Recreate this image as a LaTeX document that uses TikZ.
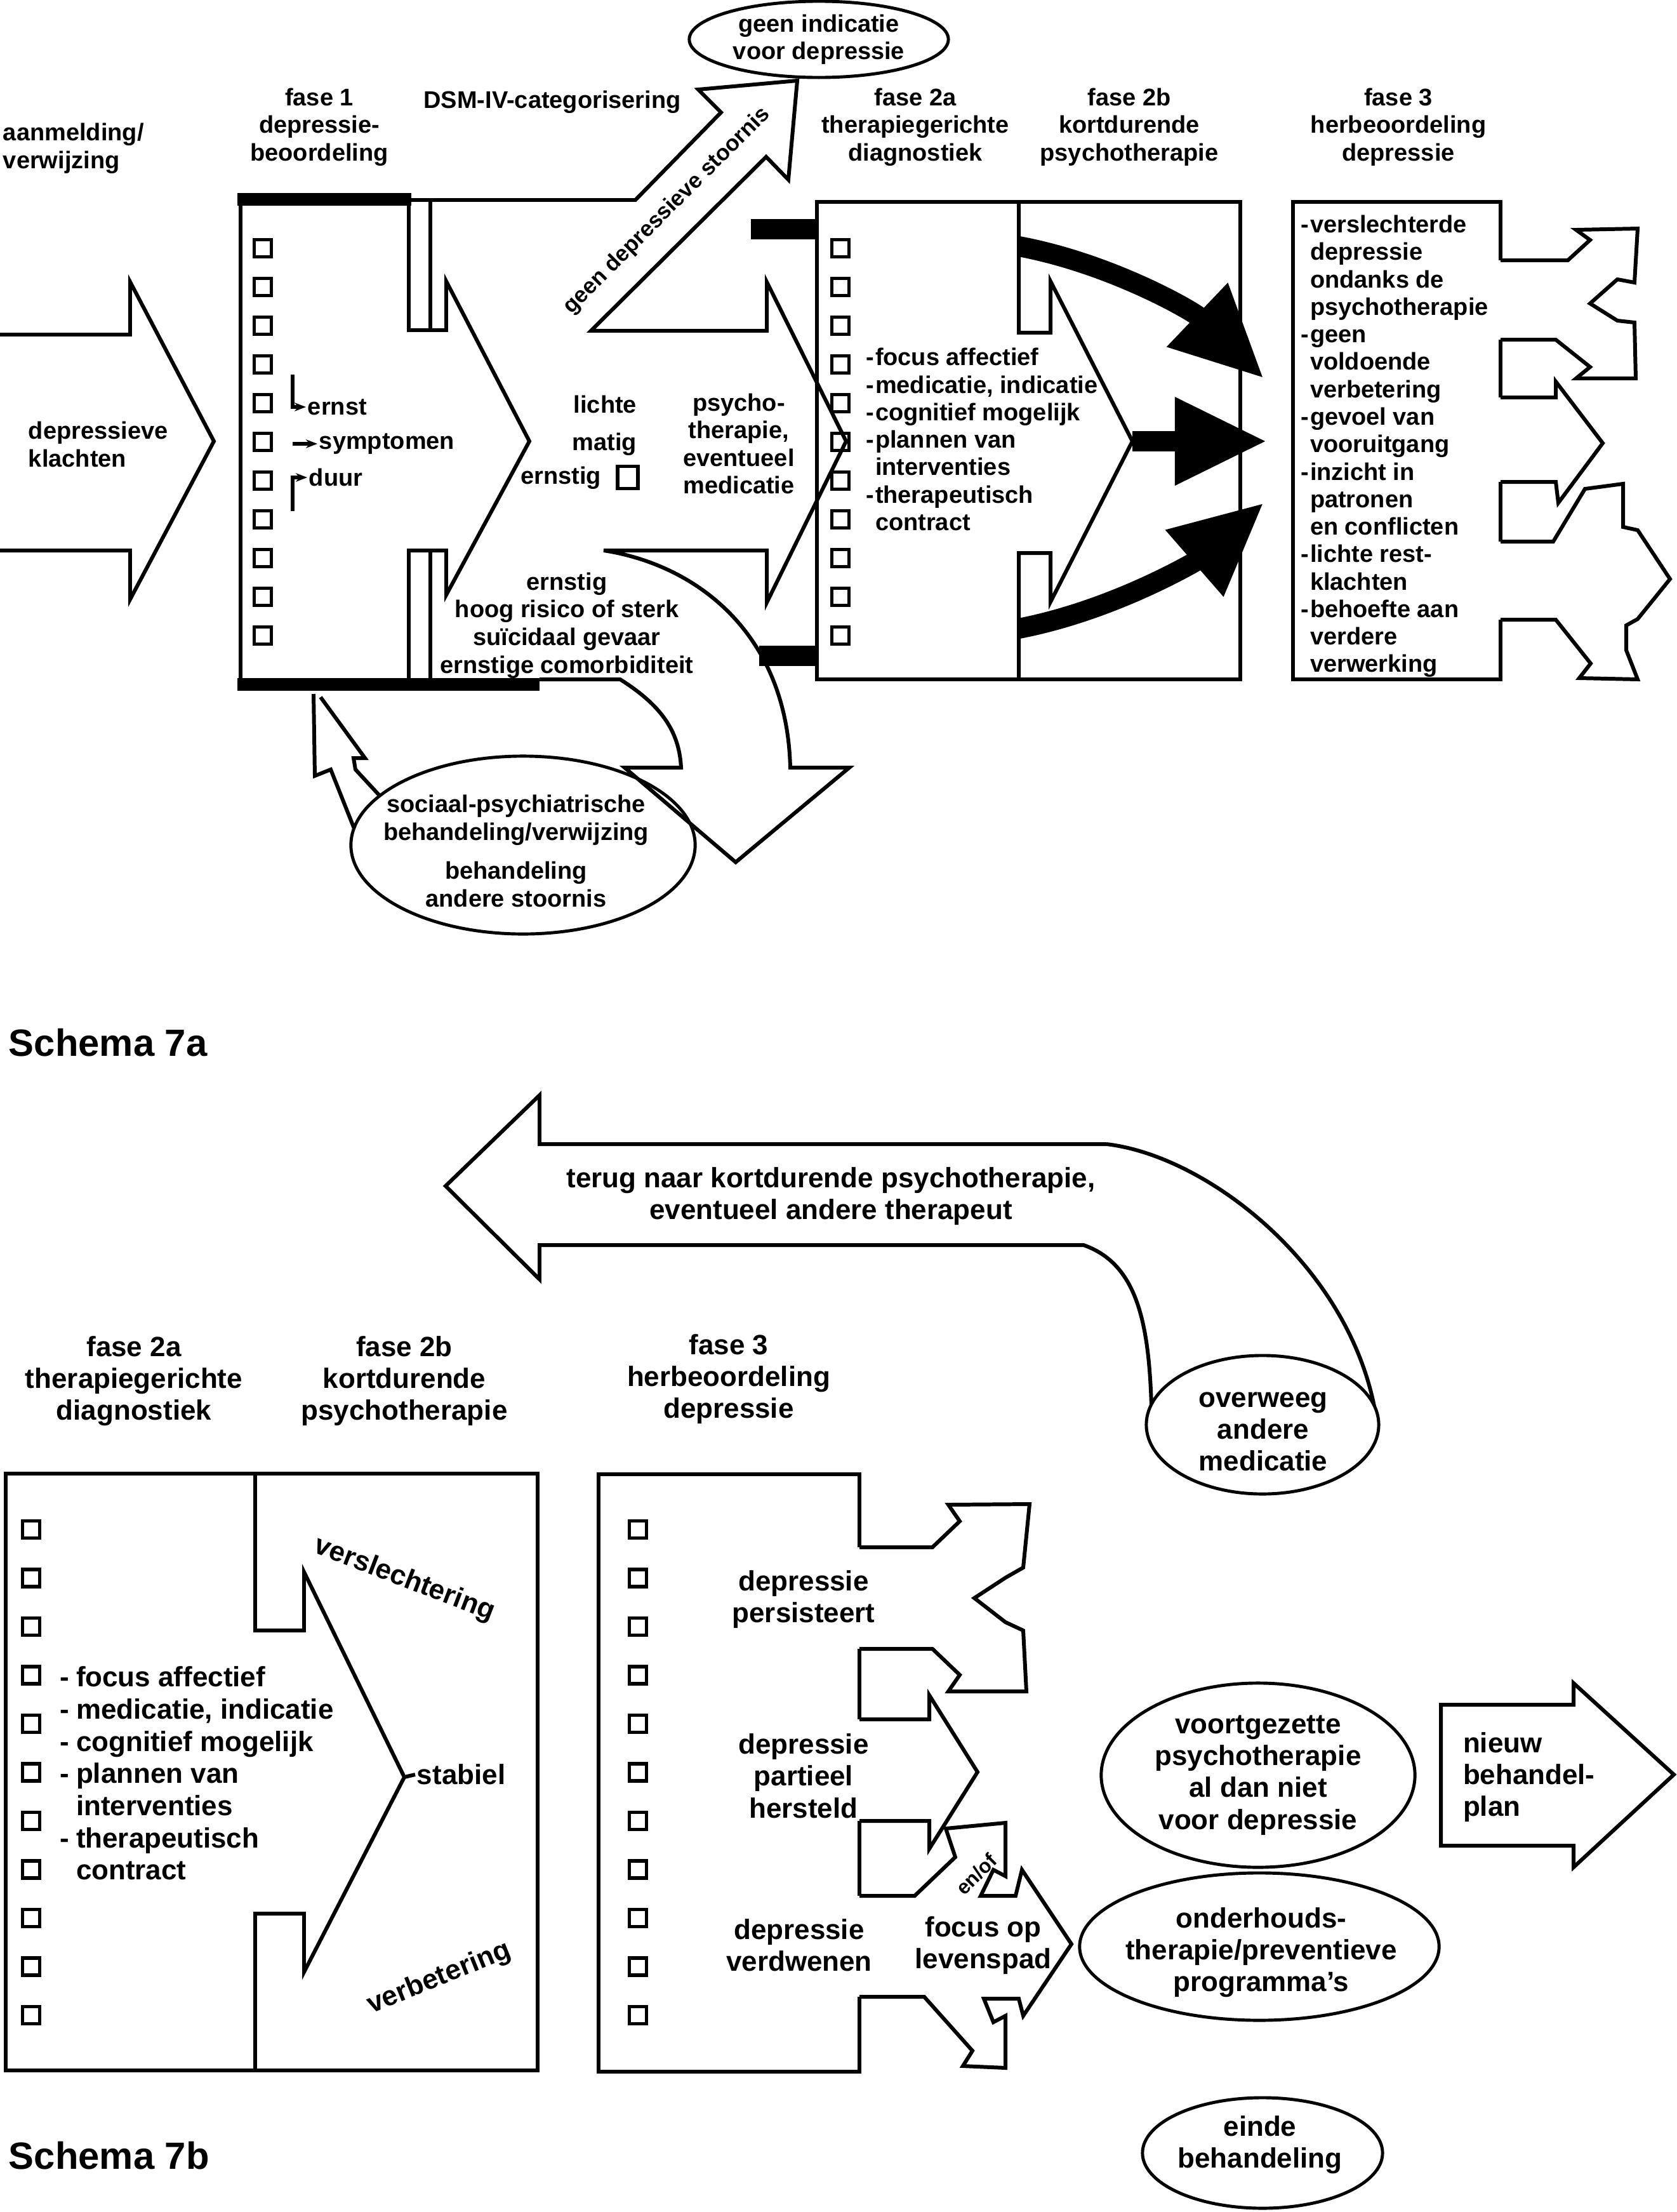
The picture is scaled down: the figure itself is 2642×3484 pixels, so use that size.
\documentclass[tikz,border=0pt]{standalone}
\usepackage{fontspec}
\setmainfont{Liberation Sans}
\usetikzlibrary{arrows.meta, positioning, shapes.geometric}

\newcommand{\bul}{\makebox[0.15cm][l]{-}}
\newcommand{\insp}{\hspace*{0.15cm}}
\newcommand{\bulb}{\makebox[0.25cm][l]{-}}
\newcommand{\inspb}{\hspace*{0.25cm}}

\tikzset{
  head/.style={font=\fontsize{10.8}{12.4}\selectfont\bfseries, align=center, inner sep=0pt},
  headb/.style={font=\fontsize{12.5}{14.3}\selectfont\bfseries, align=center, inner sep=0pt},
  lijst/.style={font=\fontsize{10.8}{12.3}\selectfont\bfseries, align=left, inner sep=0pt, anchor=west},
  lijstb/.style={font=\fontsize{12.5}{14.4}\selectfont\bfseries, align=left, inner sep=0pt, anchor=west},
  vakje/.style={draw, line width=1.5pt, minimum width=0.27cm, minimum height=0.27cm, inner sep=0pt},
  ell/.style={draw, ellipse, line width=1.4pt, inner sep=0pt},
  zwart/.style={line width=0.32cm, -{Triangle[length=1.45cm, width=1.3cm]}},
  balk/.style={line width=0.32cm},
  schema/.style={font=\fontsize{17}{20}\selectfont\bfseries, inner sep=0pt, anchor=west},
}

\begin{document}
\begin{tikzpicture}[x=0.01cm, y=-0.01cm, line width=1.7pt]
\useasboundingbox (0,0) rectangle (2642,3484);

% ================= Schema 7a =================
% Headers
\node[head, align=left, anchor=west] (aanmelding) at (2,234) {aanmelding/\\verwijzing};
\node[head] (fase1) at (503,200) {fase 1\\depressie-\\beoordeling};
\node[head] (dsm) at (870,161) {DSM-IV-categorisering};
\node[head] (fase2a) at (1442,200) {fase 2a\\therapiegerichte\\diagnostiek};
\node[head] (fase2b) at (1779,200) {fase 2b\\kortdurende\\psychotherapie};
\node[head] (fase3) at (2203,200) {fase 3\\herbeoordeling\\depressie};
\node[ell, minimum width=4.08cm, minimum height=1.2cm] (geen) at (1290,62) {};
\node[head] (geentxt) at (geen) {geen indicatie\\voor depressie};

% Entry arrow
\draw (0,527) -- (205,527) -- (205,444) -- (337,695) -- (205,944) -- (205,867) -- (0,867);
\node[head, align=left, anchor=west] (klachten) at (42,700) {depressieve\\klachten};

% Box fase 1
\draw (379,315) -- (379,1075);
\draw[line width=0.2cm] (374,314) -- (648,314);
\draw[line width=0.2cm] (374,1078) -- (850,1078);
\draw (644,315) -- (644,520) -- (703,520) -- (703,443) -- (834,695) -- (703,937) -- (703,867) -- (644,867) -- (644,1070);
\draw (678,315) -- (678,520);
\draw (678,867) -- (678,1070);
\foreach \i in {0,...,10} \node[vakje] (va\i) at (414,{391+61*\i}) {};

\node[head, anchor=west] (ernst) at (482,641) {ernst};
\node[head, anchor=west] (symptomen) at (500,699) {symptomen};
\node[head, anchor=west] (duur) at (484,752) {duur};
\draw[-{Stealth[length=0.18cm]}] (461,590) |- (ernst.west);
\draw[-{Stealth[length=0.18cm]}] (461,699) -- (symptomen.west);
\draw[-{Stealth[length=0.18cm]}] (461,805) |- (duur.west);

% Severity
\node[head, anchor=east] (lichte) at (1006,637) {lichte};
\node[head, anchor=east] (matig) at (1006,700) {matig};
\node[head, anchor=east] (ernstig) at (950,753) {ernstig};
\node[vakje, minimum width=0.32cm, minimum height=0.35cm] (vakernstig) at (989,752) {};
\node[head] (behandeling) at (1164,699) {psycho-\\therapie,\\eventueel\\medicatie};
\node[head] (ernstigtxt) at (893,985) {ernstig\\hoog risico of sterk\\suïcidaal gevaar\\ernstige comorbiditeit};

% Outline: DSM arrow, main arrow, curved arrow
\draw (648,315) -- (1001,315) -- (1136,177) -- (1100,141) -- (1256,127) -- (1242,283) -- (1207,247)
  -- (931,521) -- (1208,521) -- (1208,444) -- (1333,695) -- (1208,949) -- (1208,867) -- (951,867)
  .. controls (1100,890) and (1240,1000) .. (1245,1209) -- (1338,1209) -- (1159,1358) -- (984,1209)
  -- (1073,1209) .. controls (1070,1150) and (1040,1110) .. (977,1070) -- (850,1070);
\node[head, font=\fontsize{10}{12}\selectfont\bfseries, rotate=45] (dsmtxt) at (1051,332) {geen depressieve stoornis};
\draw[balk] (1183,361) -- (1289,361);
\draw[balk] (1196,1033) -- (1289,1033);

% Small arrow and ellipse
\draw (494,1093) -- (496,1222) -- (521,1212) -- (558,1305);
\draw (505,1098) -- (575,1194) -- (557,1194) -- (560,1212) -- (597,1252);
\node[ell, minimum width=5.42cm, minimum height=2.8cm] (sociaal) at (824,1331) {};
\node[head] (sociaaltxt) at (813,1292) {sociaal-psychiatrische\\behandeling/verwijzing};
\node[head] (anderetxt) at (813,1393) {behandeling\\andere stoornis};

% Box fase 2a / 2b
\draw (1287,318) rectangle (1954,1070);
\draw (1605,318) -- (1605,524) -- (1655,524) -- (1655,443) -- (1784,695) -- (1655,948) -- (1655,871) -- (1605,871) -- (1605,1070);
\foreach \i in {0,...,10} \node[vakje] (vb\i) at (1324,{391+61*\i}) {};
\node[lijst] (lijst2a) at (1361,692) {\bul focus affectief\\\bul medicatie, indicatie\\\bul cognitief mogelijk\\\bul plannen van\\\insp interventies\\\bul therapeutisch\\\insp contract};

\coordinate (pijl1) at (1605,388);
\coordinate (pijl2) at (1784,695);
\coordinate (pijl3) at (1605,990);
\draw[zwart] (pijl1) .. controls (1750,415) and (1880,490) .. (1991,596);
\draw[zwart] (pijl2) -- (1996,695);
\draw[zwart] (pijl3) .. controls (1760,960) and (1890,880) .. (1991,792);

% Box fase 3
\draw (2364,410) -- (2364,318) -- (2037,318) -- (2037,1070) -- (2364,1070) -- (2364,976);
\draw (2364,535) -- (2364,626);
\draw (2364,759) -- (2364,853);
\node[lijst] (lijst3) at (2046,703) {\bul verslechterde\\\insp depressie\\\insp ondanks de\\\insp psychotherapie\\\bul geen\\\insp voldoende\\\insp verbetering\\\bul gevoel van\\\insp vooruitgang\\\bul inzicht in\\\insp patronen\\\insp en conflicten\\\bul lichte rest-\\\insp klachten\\\bul behoefte aan\\\insp verdere\\\insp verwerking};

\draw (2364,410) -- (2470,410) -- (2505,378) -- (2483,362) -- (2580,360) -- (2575,445) -- (2548,440) -- (2505,478)
  -- (2548,505) -- (2575,508) -- (2577,596) -- (2483,596) -- (2505,578) -- (2451,535) -- (2364,535);
\draw (2364,626) -- (2451,626) -- (2451,601) -- (2525,698) -- (2455,792) -- (2451,759) -- (2364,759);
\draw (2364,853) -- (2447,853) -- (2497,770) -- (2557,762) -- (2557,830) -- (2580,835) -- (2631,912) -- (2580,975)
  -- (2562,985) -- (2562,1024) -- (2580,1070) -- (2488,1068) -- (2506,1045) -- (2451,976) -- (2364,976);

\node[schema] (schema7a) at (11,1642) {Schema 7a};

% ================= Schema 7b =================
% Return arrow
\draw (1743,1802) -- (850,1802) -- (850,1725) -- (702,1868) -- (850,2015) -- (850,1961) -- (1707,1961)
  .. controls (1790,1990) and (1810,2080) .. (1814,2215);
\draw (1743,1802) .. controls (1900,1820) and (2120,1990) .. (2165,2215);
\node[ell, fill=white, minimum width=3.66cm, minimum height=2.18cm] (overweeg) at (1989,2244) {};
\node[headb] (overweegtxt) at (1990,2255) {overweeg\\andere\\medicatie};
\node[headb] (terug) at (1309,1884) {terug naar kortdurende psychotherapie,\\eventueel andere therapeut};

% Headers
\node[headb] (fase2ab) at (211,2175) {fase 2a\\therapiegerichte\\diagnostiek};
\node[headb] (fase2bb) at (637,2175) {fase 2b\\kortdurende\\psychotherapie};
\node[headb] (fase3b) at (1148,2172) {fase 3\\herbeoordeling\\depressie};

% Box fase 2a / 2b
\draw (9,2321) rectangle (847,3261);
\draw (402,2321) -- (402,2568) -- (479,2568) -- (479,2476) -- (637,2799) -- (479,3106) -- (479,3014) -- (402,3014) -- (402,3261);
\foreach \i in {0,...,10} \node[vakje] (vc\i) at (49,{2409+76.5*\i}) {};
\node[lijstb] (lijst2ab) at (92,2793) {\bulb focus affectief\\\bulb medicatie, indicatie\\\bulb cognitief mogelijk\\\bulb plannen van\\\inspb interventies\\\bulb therapeutisch\\\inspb contract};
\coordinate (punt2b) at (637,2799);
\node[headb, rotate=-21] (verslechtering) at (637,2488) {verslechtering};
\node[headb, anchor=west] (stabiel) at (654,2795) {stabiel};
\draw (punt2b) -- (stabiel.west);
\node[headb, rotate=22] (verbetering) at (692,3116) {verbetering};

% Box fase 3
\draw (1354,2437) -- (1354,2322) -- (943,2322) -- (943,3263) -- (1354,3263) -- (1354,3145);
\draw (1354,2597) -- (1354,2708);
\draw (1354,2868) -- (1354,2986);
\foreach \i in {0,...,10} \node[vakje] (vd\i) at (1005,{2409+76.5*\i}) {};

\draw (1354,2437) -- (1469,2437) -- (1512,2396) -- (1494,2370) -- (1622,2369) -- (1612,2469) -- (1584,2485) -- (1535,2517)
  -- (1584,2555) -- (1612,2568) -- (1617,2664) -- (1494,2664) -- (1512,2638) -- (1469,2597) -- (1354,2597);
\draw (1354,2708) -- (1464,2708) -- (1464,2670) -- (1540,2791) -- (1464,2912) -- (1464,2868) -- (1354,2868);
\draw (1354,2986) -- (1441,2986) -- (1505,2925) -- (1490,2880) -- (1584,2871) -- (1584,2955) -- (1565,2945) -- (1545,2986)
  -- (1600,2986) -- (1610,2945) -- (1688,3062) -- (1612,3175) -- (1605,3148) -- (1550,3148) -- (1565,3185) -- (1584,3175)
  -- (1584,3257) -- (1517,3254) -- (1532,3230) -- (1456,3145) -- (1354,3145);

\node[headb] (persisteert) at (1266,2519) {depressie\\persisteert};
\node[headb] (partieel) at (1266,2797) {depressie\\partieel\\hersteld};
\node[headb] (verdwenen) at (1259,3064) {depressie\\verdwenen};
\node[headb] (levenspad) at (1549,3064) {focus op\\levenspad};
\node[font=\fontsize{9}{9}\selectfont\bfseries, rotate=45, inner sep=0pt] (enof) at (1538,2952) {en/of};

% Outcomes
\node[ell, minimum width=4.94cm, minimum height=2.9cm] (voortgezet) at (1982,2796) {};
\node[headb] (voortgezettxt) at (voortgezet) {voortgezette\\psychotherapie\\al dan niet\\voor depressie};
\node[ell, minimum width=5.66cm, minimum height=2.32cm] (onderhoud) at (1984,3066) {};
\node[headb] (onderhoudtxt) at (1987,3075) {onderhouds-\\therapie/preventieve\\programma's};
\node[ell, minimum width=3.78cm, minimum height=1.74cm] (einde) at (1989,3391) {};
\node[headb] (eindetxt) at (1985,3378) {einde\\behandeling};
\draw (2270,2685) -- (2479,2685) -- (2479,2651) -- (2637,2795) -- (2479,2941) -- (2479,2907) -- (2270,2907) -- cycle;
\node[headb, align=left, anchor=west] (nieuw) at (2302,2799) {nieuw\\behandel-\\plan};

\node[schema] (schema7b) at (11,3395) {Schema 7b};
\end{tikzpicture}
\end{document}
